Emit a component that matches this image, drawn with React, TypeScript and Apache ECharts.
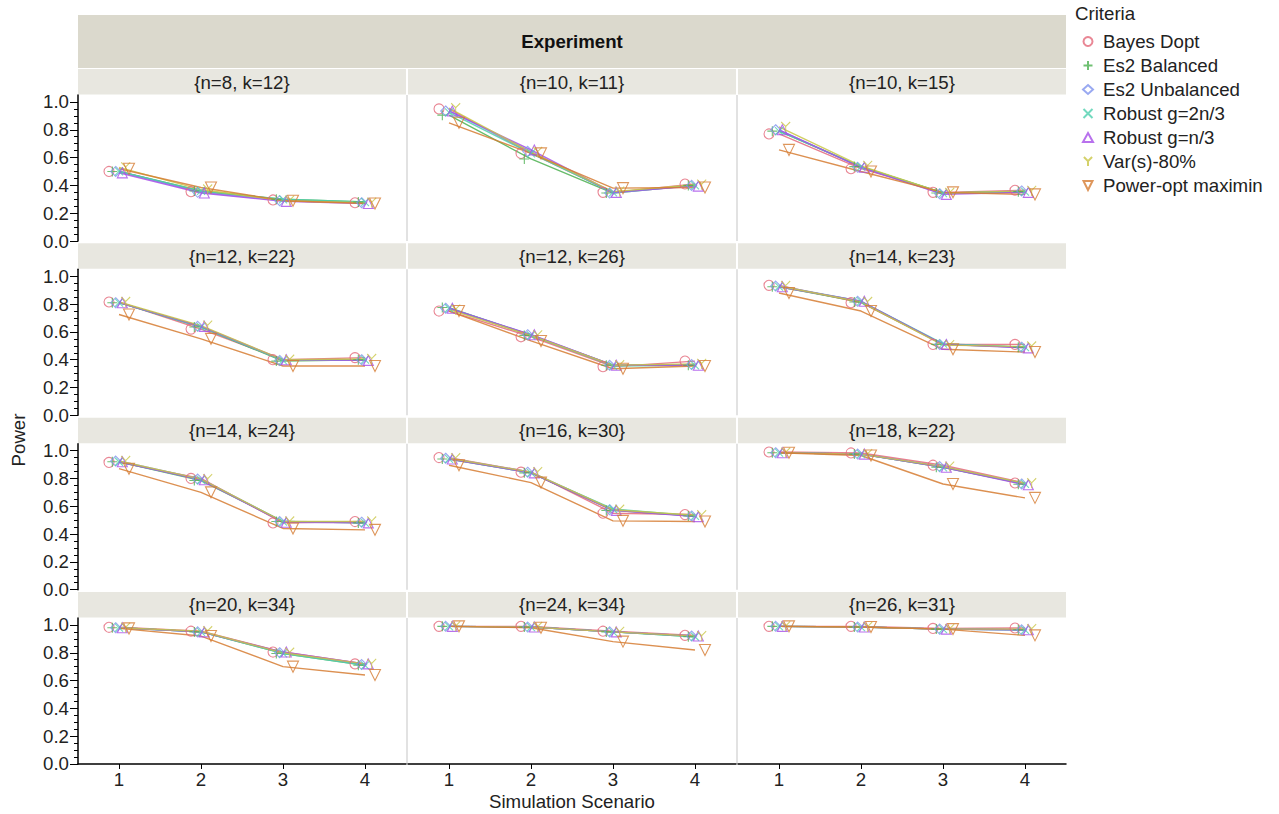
import React, { useEffect, useRef } from "react";
import * as echarts from "echarts";

const CRITERIA = [
  "Bayes Dopt",
  "Es2 Balanced",
  "Es2 Unbalanced",
  "Robust g=2n/3",
  "Robust g=n/3",
  "Var(s)-80%",
  "Power-opt maximin",
];

const PANELS = [
  "{n=8, k=12}",
  "{n=10, k=11}",
  "{n=10, k=15}",
  "{n=12, k=22}",
  "{n=12, k=26}",
  "{n=14, k=23}",
  "{n=14, k=24}",
  "{n=16, k=30}",
  "{n=18, k=22}",
  "{n=20, k=34}",
  "{n=24, k=34}",
  "{n=26, k=31}",
];

const SCENARIOS = [1, 2, 3, 4];
const Y_MAJOR = [0, 0.2, 0.4, 0.6, 0.8, 1.0];
const Y_MINOR = [0.05, 0.1, 0.15, 0.25, 0.3, 0.35, 0.45, 0.5, 0.55, 0.65, 0.7, 0.75, 0.85, 0.9, 0.95];

// values per panel (12 panels x 4 scenarios)
const bayesDopt = [
  [0.5, 0.355, 0.295, 0.275],
  [0.95, 0.63, 0.35, 0.41],
  [0.77, 0.52, 0.35, 0.365],
  [0.815, 0.62, 0.4, 0.415],
  [0.75, 0.565, 0.35, 0.39],
  [0.935, 0.81, 0.51, 0.51],
  [0.915, 0.8, 0.48, 0.49],
  [0.95, 0.845, 0.55, 0.54],
  [0.99, 0.983, 0.895, 0.767],
  [0.983, 0.955, 0.805, 0.72],
  [0.99, 0.99, 0.955, 0.925],
  [0.99, 0.99, 0.975, 0.978],
];
const es2Balanced = [
  [0.5, 0.36, 0.3, 0.28],
  [0.905, 0.59, 0.345, 0.4],
  [0.79, 0.535, 0.345, 0.355],
  [0.81, 0.635, 0.39, 0.4],
  [0.775, 0.575, 0.36, 0.36],
  [0.925, 0.815, 0.51, 0.49],
  [0.92, 0.785, 0.49, 0.48],
  [0.94, 0.84, 0.57, 0.53],
  [0.985, 0.975, 0.88, 0.758],
  [0.98, 0.95, 0.795, 0.71],
  [0.99, 0.985, 0.95, 0.915],
  [0.99, 0.985, 0.97, 0.965],
];
const es2Unbalanced = [
  [0.5, 0.35, 0.29, 0.275],
  [0.935, 0.645, 0.345, 0.4],
  [0.8, 0.53, 0.34, 0.36],
  [0.81, 0.64, 0.395, 0.4],
  [0.77, 0.58, 0.36, 0.365],
  [0.93, 0.82, 0.51, 0.49],
  [0.925, 0.795, 0.49, 0.485],
  [0.945, 0.845, 0.575, 0.53],
  [0.985, 0.975, 0.885, 0.76],
  [0.98, 0.95, 0.8, 0.715],
  [0.99, 0.985, 0.95, 0.92],
  [0.99, 0.985, 0.97, 0.965],
];
const robust2n3 = [
  [0.5, 0.36, 0.3, 0.28],
  [0.925, 0.63, 0.35, 0.4],
  [0.79, 0.535, 0.345, 0.355],
  [0.81, 0.635, 0.395, 0.4],
  [0.77, 0.575, 0.355, 0.36],
  [0.925, 0.82, 0.515, 0.49],
  [0.92, 0.79, 0.49, 0.48],
  [0.94, 0.84, 0.58, 0.53],
  [0.985, 0.975, 0.88, 0.76],
  [0.98, 0.95, 0.795, 0.71],
  [0.99, 0.985, 0.95, 0.915],
  [0.99, 0.985, 0.97, 0.965],
];
const robustn3 = [
  [0.49, 0.345, 0.285, 0.27],
  [0.935, 0.655, 0.35, 0.395],
  [0.8, 0.53, 0.335, 0.35],
  [0.81, 0.64, 0.4, 0.395],
  [0.77, 0.58, 0.36, 0.36],
  [0.925, 0.82, 0.51, 0.485],
  [0.92, 0.79, 0.485, 0.48],
  [0.94, 0.84, 0.57, 0.525],
  [0.985, 0.975, 0.88, 0.755],
  [0.98, 0.95, 0.805, 0.72],
  [0.99, 0.985, 0.95, 0.92],
  [0.99, 0.985, 0.97, 0.965],
];
const varS80 = [
  [0.53, 0.37, 0.29, 0.275],
  [0.955, 0.64, 0.355, 0.405],
  [0.82, 0.54, 0.345, 0.36],
  [0.815, 0.645, 0.4, 0.405],
  [0.76, 0.575, 0.36, 0.37],
  [0.93, 0.815, 0.505, 0.495],
  [0.925, 0.795, 0.49, 0.49],
  [0.945, 0.845, 0.575, 0.535],
  [0.985, 0.975, 0.885, 0.765],
  [0.98, 0.955, 0.8, 0.72],
  [0.99, 0.985, 0.95, 0.92],
  [0.99, 0.985, 0.97, 0.97],
];
const powerOptMaximin = [
  [0.52, 0.385, 0.29, 0.27],
  [0.85, 0.63, 0.38, 0.385],
  [0.655, 0.5, 0.35, 0.335],
  [0.725, 0.55, 0.355, 0.355],
  [0.75, 0.535, 0.335, 0.355],
  [0.88, 0.75, 0.475, 0.455],
  [0.87, 0.7, 0.44, 0.43],
  [0.895, 0.77, 0.495, 0.49],
  [0.985, 0.965, 0.76, 0.66],
  [0.975, 0.92, 0.7, 0.64],
  [0.99, 0.98, 0.88, 0.82],
  [0.99, 0.985, 0.97, 0.925],
];

const SERIES_VALUES = [bayesDopt, es2Balanced, es2Unbalanced, robust2n3, robustn3, varS80, powerOptMaximin];
const COLORS = ["#e4697b", "#4cb050", "#7f93ee", "#4fcfae", "#a64ee8", "#c9c545", "#d67c32"];
const SYMBOLS = [
  "circle",
  "path://M5,0L5,10M0,5L10,5",
  "diamond",
  "path://M0,0L10,10M10,0L0,10",
  "triangle",
  "path://M0,0L5,5L10,0M5,5L5,11",
  "path://M0,0L10,0L5,10Z",
];
const SYMBOL_SIZES = [10, 10, 10, 8, 10, [9, 10], 11];

const FONT = "Liberation Sans, Arial, sans-serif";
const FS = 18.67;
const TXT = "#222";

export default function App() {
  const ref = useRef<HTMLDivElement>(null);
  useEffect(() => {
    document.body.style.margin = "0";
    const chart = echarts.init(ref.current!, null, { renderer: "svg" });

    const PLOT_LEFT = 78;
    const COL_W = 328;
    const COL_PITCH = 330;
    const PLOT_TOP0 = 95;
    const ROW_PITCH = 174.33;
    const PLOT_H = 146;
    const UNIT_PX = COL_W / 4;
    const dodgePx = [-10, -6.67, -3.33, 0, 3.33, 6.67, 10];

    const grids: any[] = [];
    const xAxes: any[] = [];
    const yAxes: any[] = [];
    const series: any[] = [];
    const graphics: any[] = [];

    graphics.push({
      type: "rect",
      shape: { x: 78, y: 15, width: 988, height: 53 },
      style: { fill: "#dbd9cd" },
      silent: true,
    });
    graphics.push({
      type: "text",
      style: { text: "Experiment", x: 572, y: 41, align: "center", verticalAlign: "middle", font: `bold ${FS}px ${FONT}`, fill: "#111" },
      silent: true,
    });

    PANELS.forEach((title, i) => {
      const r = Math.floor(i / 3);
      const c = i % 3;
      const left = PLOT_LEFT + c * COL_PITCH;
      const top = PLOT_TOP0 + r * ROW_PITCH;
      grids.push({ left, top, width: COL_W, height: PLOT_H, containLabel: false });
      const bottomRow = r === 3;
      const firstCol = c === 0;
      xAxes.push({
        type: "value",
        gridIndex: i,
        position: "bottom",
        min: 0.5,
        max: 4.5,
        axisLine: { show: bottomRow, onZero: false, lineStyle: { color: "#000", width: 1.5 } },
        axisTick: { show: bottomRow, customValues: SCENARIOS, length: 5, lineStyle: { color: "#000" } },
        axisLabel: { show: bottomRow, customValues: SCENARIOS, fontSize: FS, color: TXT, fontFamily: FONT, margin: 6 },
        splitLine: { show: false },
      });
      yAxes.push({
        type: "value",
        gridIndex: i,
        position: "left",
        min: 0,
        max: 1.05,
        axisLine: { show: firstCol, onZero: false, lineStyle: { color: "#000", width: 1.5 } },
        axisTick: { show: firstCol, customValues: Y_MAJOR, length: 8, lineStyle: { color: "#000" } },
        axisLabel: {
          show: firstCol,
          customValues: Y_MAJOR,
          formatter: (v: number) => v.toFixed(1),
          fontSize: FS,
          color: TXT,
          fontFamily: FONT,
          margin: 9,
        },
        splitLine: { show: false },
      });
      yAxes.push({
        type: "value",
        gridIndex: i,
        position: "left",
        offset: 0,
        min: 0,
        max: 1.05,
        axisLine: { show: false, onZero: false },
        axisTick: { show: firstCol, customValues: Y_MINOR, length: 4, lineStyle: { color: "#000" } },
        axisLabel: { show: false },
        splitLine: { show: false },
      });

      // strip
      graphics.push({
        type: "rect",
        shape: { x: left, y: top - 26, width: COL_W, height: 25.5 },
        style: { fill: "#e8e7e0" },
        silent: true,
      });
      graphics.push({
        type: "text",
        style: { text: title, x: left + COL_W / 2, y: top - 13, align: "center", verticalAlign: "middle", font: `${FS}px ${FONT}`, fill: TXT },
        silent: true,
      });
      if (c > 0) {
        graphics.push({
          type: "line",
          shape: { x1: left - 1, y1: top, x2: left - 1, y2: top + PLOT_H },
          style: { stroke: "#e2e2e2", lineWidth: 2 },
          silent: true,
        });
      }

      CRITERIA.forEach((name, j) => {
        const vals = SERIES_VALUES[j][i];
        series.push({
          type: "line",
          name: name + " (line)",
          xAxisIndex: i,
          yAxisIndex: 2 * i,
          data: vals.map((v, k) => [SCENARIOS[k], v]),
          showSymbol: false,
          symbol: "none",
          lineStyle: { color: COLORS[j], width: 1.4, opacity: 0.85 },
          itemStyle: { color: COLORS[j] },
          silent: true,
          z: 2,
        });
        const off = dodgePx[j] / UNIT_PX;
        series.push({
          type: "scatter",
          name,
          xAxisIndex: i,
          yAxisIndex: 2 * i,
          data: vals.map((v, k) => [SCENARIOS[k] + off, v]),
          symbol: SYMBOLS[j],
          symbolSize: SYMBOL_SIZES[j],
          itemStyle: { color: "rgba(255,255,255,0)", borderColor: COLORS[j], borderWidth: 1.1 },
          silent: true,
          z: 3,
        });
      });
    });

    graphics.push({
      type: "text",
      rotation: Math.PI / 2,
      x: 18,
      y: 440,
      style: { text: "Power", x: 0, y: 0, align: "center", verticalAlign: "middle", font: `${FS}px ${FONT}`, fill: TXT },
      silent: true,
    });
    graphics.push({
      type: "text",
      style: { text: "Simulation Scenario", x: 572, y: 801, align: "center", verticalAlign: "middle", font: `${FS}px ${FONT}`, fill: TXT },
      silent: true,
    });
    graphics.push({
      type: "text",
      style: { text: "Criteria", x: 1075, y: 13, align: "left", verticalAlign: "middle", font: `${FS}px ${FONT}`, fill: TXT },
      silent: true,
    });

    chart.setOption({
      animation: false,
      backgroundColor: "#fff",
      grid: grids,
      xAxis: xAxes,
      yAxis: yAxes,
      series,
      legend: {
        orient: "vertical",
        left: 1082,
        top: 32,
        padding: 0,
        itemWidth: 10,
        itemHeight: 9,
        itemGap: 5,
        selectedMode: false,
        data: CRITERIA,
        textStyle: { fontSize: FS, color: TXT, fontFamily: FONT, lineHeight: 18, padding: [0, 0, 0, 5] },
      },
      graphic: graphics,
    });
    return () => chart.dispose();
  }, []);
  return <div ref={ref} style={{ width: 1279, height: 814 }} />;
}
